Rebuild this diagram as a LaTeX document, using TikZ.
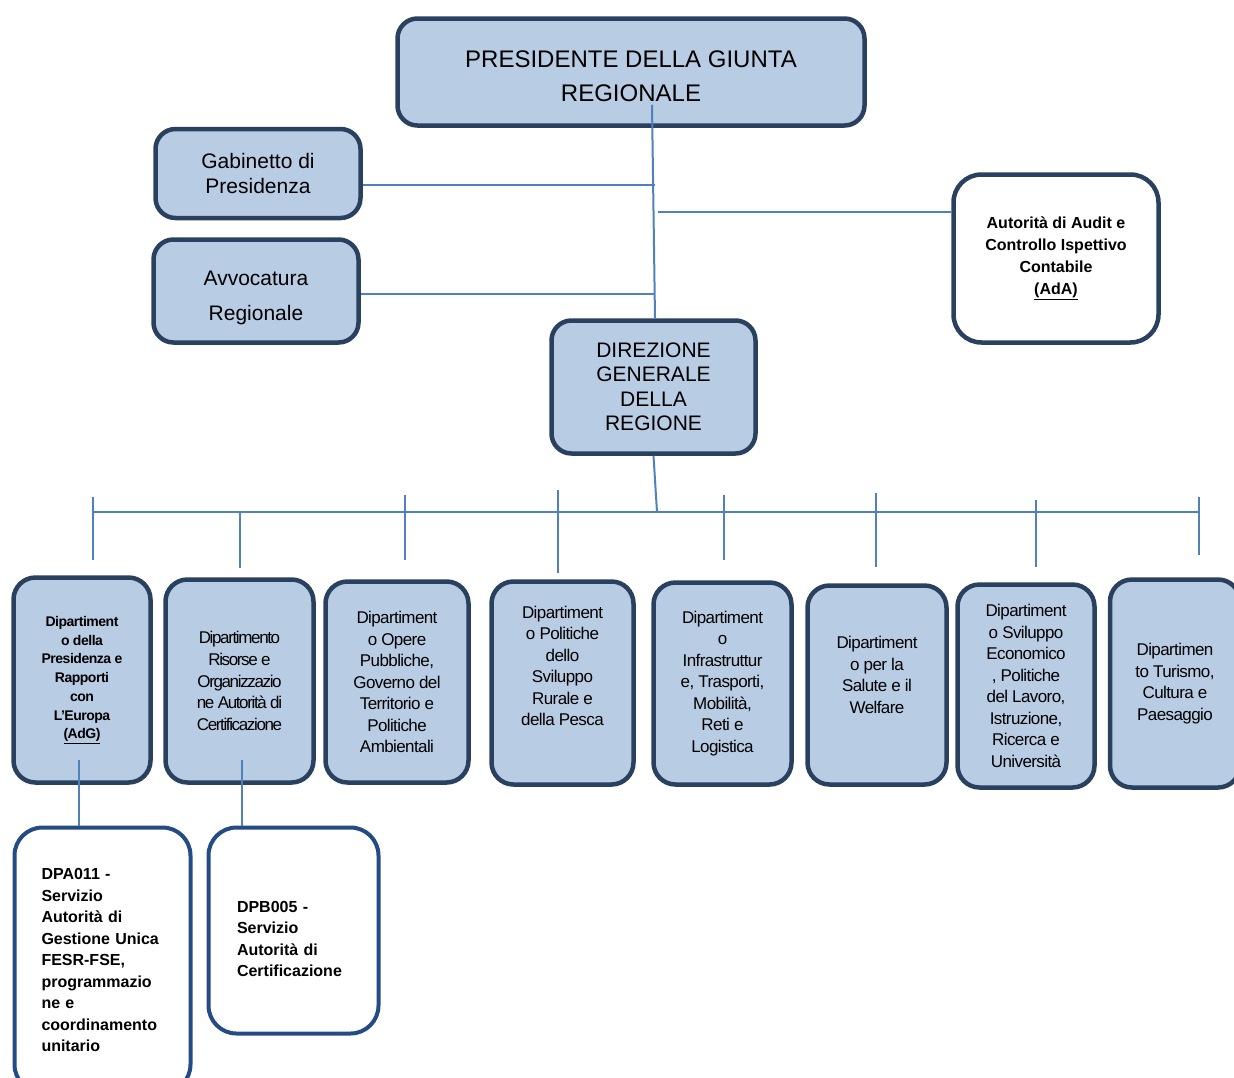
\documentclass[tikz,border=0pt]{standalone}
\usepackage{fontspec}
\setmainfont{Liberation Sans}
\newfontfamily\tightfont[LetterSpace=-3.5]{Liberation Sans}
\newfontfamily\tighterfont[LetterSpace=-8]{Liberation Sans}
\usepackage{tikz}
\definecolor{boxfill}{HTML}{B8CCE4}
\definecolor{boxline}{HTML}{29415F}
\definecolor{subline}{HTML}{244B85}
\definecolor{linkblue}{HTML}{4F81BD}

\begin{document}
\begin{tikzpicture}[x=1pt, y=-1pt,
    box/.style={draw=boxline, fill=boxfill, line width=4.5pt, rounded corners=20pt, align=center, inner sep=0pt},
    whitebox/.style={box, fill=white, rounded corners=28pt},
    subbox/.style={whitebox, draw=subline, line width=4pt, align=left},
    dept/.style={box, rounded corners=22pt, font=\tightfont\fontsize{17}{21.5}\selectfont},
    link/.style={draw=linkblue, line width=2pt}]
\clip (0,0) rectangle (1234,1077);

\node[box, minimum width=467, minimum height=107, text height=59.5pt, font=\fontsize{24}{34}\selectfont]
    (pres) at (631,72) {PRESIDENTE DELLA GIUNTA\\REGIONALE};
\node[box, minimum width=205, minimum height=89, font=\fontsize{21}{25}\selectfont]
    (gab) at (258,173.5) {Gabinetto di\\Presidenza};
\node[box, minimum width=205, minimum height=103, text height=64pt, font=\fontsize{21}{35}\selectfont]
    (avv) at (256,291) {Avvocatura\\Regionale};
\node[whitebox, minimum width=205, minimum height=168, font=\bfseries\fontsize{16}{22}\selectfont]
    (ada) at (1056,258.5) {Autorità di Audit e\\Controllo Ispettivo\\Contabile\\\underline{(AdA)}};
\node[box, minimum width=204, minimum height=133, font=\fontsize{21}{24.5}\selectfont]
    (dir) at (653.5,387) {DIREZIONE\\GENERALE\\DELLA\\REGIONE};

\node[dept, minimum width=137, minimum height=205, font=\tightfont\bfseries\fontsize{14}{18.7}\selectfont]
    (dep1) at (82,680) {Dipartiment\\o della\\Presidenza e\\Rapporti\\con\\L’Europa\\\underline{(AdG)}};
\node[dept, minimum width=148, minimum height=203, font=\tighterfont\fontsize{17}{21.7}\selectfont]
    (dep2) at (239.5,681) {Dipartimento\\Risorse e\\Organizzazio\\ne Autorità di\\Certificazione};
\node[dept, minimum width=143, minimum height=201] (dep3) at (397,682)
    {Dipartiment\\o Opere\\Pubbliche,\\Governo del\\Territorio e\\Politiche\\Ambientali};
\node[dept, minimum width=142, minimum height=203, text depth=34pt] (dep4) at (562.5,683)
    {Dipartiment\\o Politiche\\dello\\Sviluppo\\Rurale e\\della Pesca};
\node[dept, minimum width=138, minimum height=202] (dep5) at (722.5,683.5)
    {Dipartiment\\o\\Infrastruttur\\e, Trasporti,\\Mobilità,\\Reti e\\Logistica};
\node[dept, minimum width=139, minimum height=199, text depth=20pt] (dep6) at (877,685)
    {Dipartiment\\o per la\\Salute e il\\Welfare};
\node[dept, minimum width=137, minimum height=203] (dep7) at (1026,686)
    {Dipartiment\\o Sviluppo\\Economico\\, Politiche\\del Lavoro,\\Istruzione,\\Ricerca e\\Università};
\node[dept, minimum width=130, minimum height=208] (dep8) at (1175,683.5)
    {Dipartimen\\to Turismo,\\Cultura e\\Paesaggio};

\node[subbox, minimum width=176, minimum height=265, text width=122, font=\bfseries\fontsize{16}{21.5}\selectfont]
    (dpa) at (102.5,960) {DPA011 -\\Servizio\\Autorità di\\Gestione Unica\\FESR-FSE,\\programmazio\\ne e\\coordinamento\\unitario};
\node[subbox, minimum width=170, minimum height=206, text width=113, text height=28.5pt, font=\bfseries\fontsize{16}{21.5}\selectfont]
    (dpb) at (293.5,930.5) {DPB005 -\\Servizio\\Autorità di\\Certificazione};

% links
\coordinate (gabend) at (655,185);
\coordinate (avvend) at (655,294);
\coordinate (adastart) at (658,212);
\coordinate (hub) at (657,512);
\draw[link] ([xshift=21pt,yshift=23pt]pres.south) -- ([xshift=1.5pt]dir.north);
\draw[link] (gab.east |- gabend) -- (gabend);
\draw[link] (avv.east |- avvend) -- (avvend);
\draw[link] (adastart) -- (adastart -| ada.west);
\draw[link] (dir.south) -- (hub);
\draw[link] (93,512) -- (1199,512);
\foreach \x/\a/\b in {93/497/560, 240/512/568, 405/495/560, 558/490/573,
                      724/495/560, 876/493/567, 1036/500/567, 1199/497/555}
    \draw[link] (\x,\a) -- (\x,\b);
\draw[link] ([xshift=-3pt,yshift=25pt]dep1.south) -- ([xshift=-3pt]dep1.south |- dpa.north);
\draw[link] ([xshift=2.5pt,yshift=25pt]dep2.south) -- ([xshift=2.5pt]dep2.south |- dpb.north);
\end{tikzpicture}
\end{document}
